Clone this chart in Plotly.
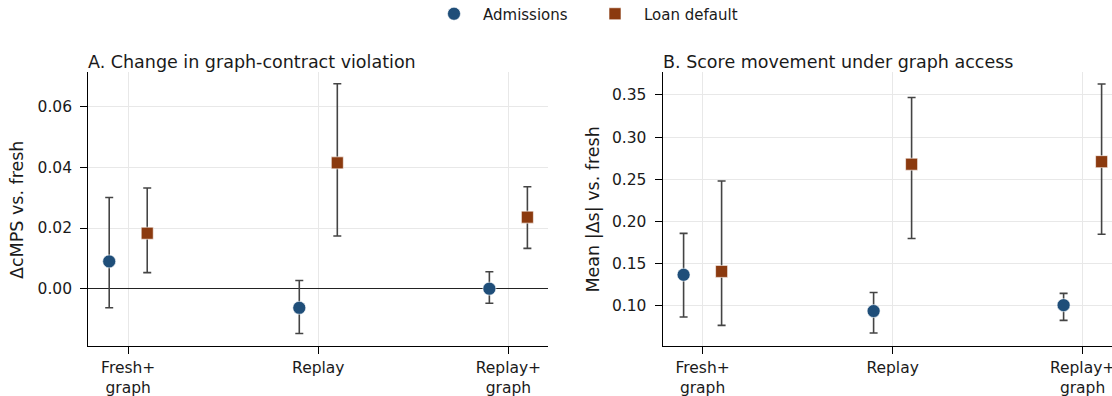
import plotly.graph_objects as go

# ---- data ----
conditions = ["Fresh+<br>graph", "Replay", "Replay+<br>graph"]
series = ["Admissions", "Loan default"]

# Panel A: change in cMPS vs fresh (point, lower CI, upper CI)
a_adm = [0.0090, -0.0063, 0.0000]
a_adm_lo = [-0.0063, -0.0148, -0.0048]
a_adm_hi = [0.0301, 0.0027, 0.0056]
a_loan = [0.0183, 0.0415, 0.0236]
a_loan_lo = [0.0053, 0.0174, 0.0133]
a_loan_hi = [0.0332, 0.0676, 0.0336]

# Panel B: mean |Δs| vs fresh
b_adm = [0.137, 0.094, 0.101]
b_adm_lo = [0.087, 0.068, 0.083]
b_adm_hi = [0.186, 0.116, 0.115]
b_loan = [0.141, 0.268, 0.271]
b_loan_lo = [0.077, 0.180, 0.185]
b_loan_hi = [0.248, 0.347, 0.363]

offsets = [-0.1, 0.1]
colors = ["#1f4e79", "#8b3a0f"]
symbols = ["circle", "square"]
legend_ids = ["legend", "legend2"]

FONT = "DejaVu Sans"
TXT = "#1a1a1a"

# full-window figure (page margin removed in post_script)
W, H, OFF = 1112, 396, 0


def X(sx):
    return (sx - OFF) / W


def Y(sy):
    return 1 - (sy - OFF) / H


fig = go.Figure()


def add_series(xref, yref, vals, lo, hi, k, show):
    xs = [i + offsets[k] for i in range(len(conditions))]
    fig.add_trace(go.Scatter(
        x=xs, y=vals, mode="markers", name=series[k], showlegend=show,
        legend=legend_ids[k],
        xaxis=xref, yaxis=yref,
        marker=dict(symbol=symbols[k], color=colors[k], size=13 if k == 0 else 12,
                    line=dict(color="white", width=0.6)),
        error_y=dict(type="data", symmetric=False,
                     array=[h - v for h, v in zip(hi, vals)],
                     arrayminus=[v - l for v, l in zip(vals, lo)],
                     color="#444444", thickness=1.6, width=4),
    ))


add_series("x", "y", a_adm, a_adm_lo, a_adm_hi, 0, True)
add_series("x", "y", a_loan, a_loan_lo, a_loan_hi, 1, True)
add_series("x2", "y2", b_adm, b_adm_lo, b_adm_hi, 0, False)
add_series("x2", "y2", b_loan, b_loan_lo, b_loan_hi, 1, False)

ydom = [Y(346), Y(71.6)]
common_x = dict(tickvals=[0, 1, 2], ticktext=conditions, showgrid=True,
                gridcolor="#e8e8e8", gridwidth=1, zeroline=False,
                showline=True, linecolor="black", linewidth=1.3,
                ticks="outside", ticklen=7, tickwidth=1.3, tickcolor="black",
                ticklabeloverflow="allow",
                tickfont=dict(family=FONT, size=15.5, color=TXT), mirror=False)
common_y = dict(showgrid=True, gridcolor="#e8e8e8", gridwidth=1,
                showline=True, linecolor="black", linewidth=1.3,
                ticks="outside", ticklen=7, tickwidth=1.3, tickcolor="black",
                ticklabelstandoff=5,
                tickfont=dict(family=FONT, size=15.5, color=TXT))

legend_common = dict(orientation="h", yanchor="middle", xanchor="left",
                     font=dict(family=FONT, size=15, color=TXT), itemwidth=48,
                     bgcolor="rgba(0,0,0,0)")

x2_end = -0.21 + (W - 662.7) / 190.0

fig.update_layout(
    width=W, height=H,
    margin=dict(l=0, r=0, t=0, b=0, autoexpand=False),
    paper_bgcolor="white", plot_bgcolor="white",
    font=dict(family=FONT, color=TXT),
    xaxis=dict(domain=[X(88.3), X(548.3)], range=[-0.21, 2.21], anchor="y", **common_x),
    yaxis=dict(domain=ydom, range=[-0.0189, 0.0716], anchor="x",
               tickvals=[0.0, 0.02, 0.04, 0.06], ticktext=["0.00", "0.02", "0.04", "0.06"],
               zeroline=True, zerolinecolor="#222222", zerolinewidth=1.3, **common_y),
    xaxis2=dict(domain=[X(662.7), 1.0], range=[-0.21, x2_end], anchor="y2", **common_x),
    yaxis2=dict(domain=ydom, range=[0.0526, 0.3777], anchor="x2",
                tickvals=[0.10, 0.15, 0.20, 0.25, 0.30, 0.35],
                ticktext=["0.10", "0.15", "0.20", "0.25", "0.30", "0.35"],
                zeroline=False, **common_y),
    legend=dict(x=X(425), y=Y(14), **legend_common),
    legend2=dict(x=X(586), y=Y(14), **legend_common),
    annotations=[
        dict(text="A. Change in graph-contract violation", xref="paper", yref="paper",
             x=X(86), y=Y(74), xanchor="left", yanchor="bottom", showarrow=False,
             font=dict(family=FONT, size=17.5, color=TXT)),
        dict(text="B. Score movement under graph access", xref="paper", yref="paper",
             x=X(660.5), y=Y(74), xanchor="left", yanchor="bottom", showarrow=False,
             font=dict(family=FONT, size=17.5, color=TXT)),
        dict(text="ΔcMPS vs. fresh", xref="paper", yref="paper", textangle=-90,
             x=X(17), y=Y(210), xanchor="center", yanchor="middle", showarrow=False,
             font=dict(family=FONT, size=17.5, color=TXT)),
        dict(text="Mean |Δs| vs. fresh", xref="paper", yref="paper", textangle=-90,
             x=X(592), y=Y(209.5), xanchor="center", yanchor="middle", showarrow=False,
             font=dict(family=FONT, size=17.5, color=TXT)),
    ],
)

fig.write_html("out.html", config={"displayModeBar": False},
               post_script="document.body.style.margin='0';")
